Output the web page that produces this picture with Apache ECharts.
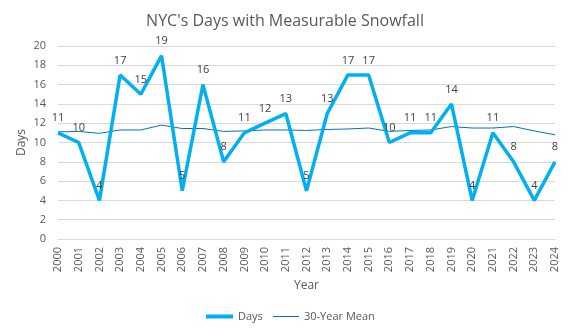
<!DOCTYPE html>
<html><head><meta charset="utf-8">
<script src="https://cdn.jsdelivr.net/npm/echarts@6/dist/echarts.min.js"></script>
<style>html,body{margin:0;padding:0;background:#fff}#c{width:570px;height:334px}</style>
</head><body><div id="c"></div>
<script>
const years = ['2000','2001','2002','2003','2004','2005','2006','2007','2008','2009','2010','2011','2012','2013','2014','2015','2016','2017','2018','2019','2020','2021','2022','2023','2024'];
const days = [11,10,4,17,15,19,5,16,8,11,12,13,5,13,17,17,10,11,11,14,4,11,8,4,8];
const mean30 = [11.1,11.15,10.95,11.3,11.3,11.8,11.45,11.45,11.15,11.2,11.3,11.3,11.25,11.35,11.4,11.5,11.15,11.25,11.3,11.65,11.5,11.5,11.65,11.2,10.8];
const yTicks = {min:0, max:20, interval:2};
const FONT = 'Open Sans, Liberation Sans, sans-serif';
const chart = echarts.init(document.getElementById('c'));
const legendText = {fontFamily:FONT, fontSize:11, color:'#595959'};
chart.setOption({
  animation:false,
  title:{text:"NYC's Days with Measurable Snowfall", left:'center', top:8,
    textStyle:{fontFamily:FONT, fontSize:16, fontWeight:'normal', color:'#595959'}},
  grid:{left:58, right:15, top:46, bottom:95},
  xAxis:{type:'category', data:years, boundaryGap:false,
    name:'Year', nameLocation:'middle', nameGap:38,
    nameTextStyle:{fontFamily:FONT, fontSize:12, color:'#595959'},
    axisLine:{show:true, lineStyle:{color:'#d9d9d9'}}, axisTick:{show:false},
    axisLabel:{rotate:90, interval:0, fontFamily:FONT, fontSize:11, color:'#595959', margin:8}},
  yAxis:{type:'value', min:yTicks.min, max:yTicks.max, interval:yTicks.interval,
    name:'Days', nameLocation:'middle', nameGap:30, nameRotate:90, nameMoveOverlap:false,
    nameTextStyle:{fontFamily:FONT, fontSize:12, color:'#595959'},
    axisLine:{show:false}, axisTick:{show:false},
    splitLine:{lineStyle:{color:'#d9d9d9', width:1}},
    axisLabel:{fontFamily:FONT, fontSize:11, color:'#595959', margin:12}},
  legend:[
    {left:206, bottom:12, padding:0, itemWidth:27, itemHeight:4, itemGap:4, textStyle:legendText,
      data:[{name:'Days', icon:'rect', itemStyle:{color:'#00b0f0'}}]},
    {left:273, bottom:12, padding:0, itemWidth:26, itemHeight:1, itemGap:4, textStyle:legendText,
      data:[{name:'30-Year Mean', icon:'rect', itemStyle:{color:'#0070c0'}}]}
  ],
  series:[
    {name:'Days', type:'line', data:days, showSymbol:true, symbol:'circle', symbolSize:0,
      lineStyle:{color:'#00b0f0', width:3.5}, itemStyle:{color:'#00b0f0'}, z:3,
      label:{show:true, position:'top', distance:9, fontFamily:FONT, fontSize:11, color:'#404040'}},
    {name:'30-Year Mean', type:'line', data:mean30, showSymbol:false, symbol:'none',
      lineStyle:{color:'#0070c0', width:1}, itemStyle:{color:'#0070c0'}, z:2}
  ]
});
</script></body></html>
